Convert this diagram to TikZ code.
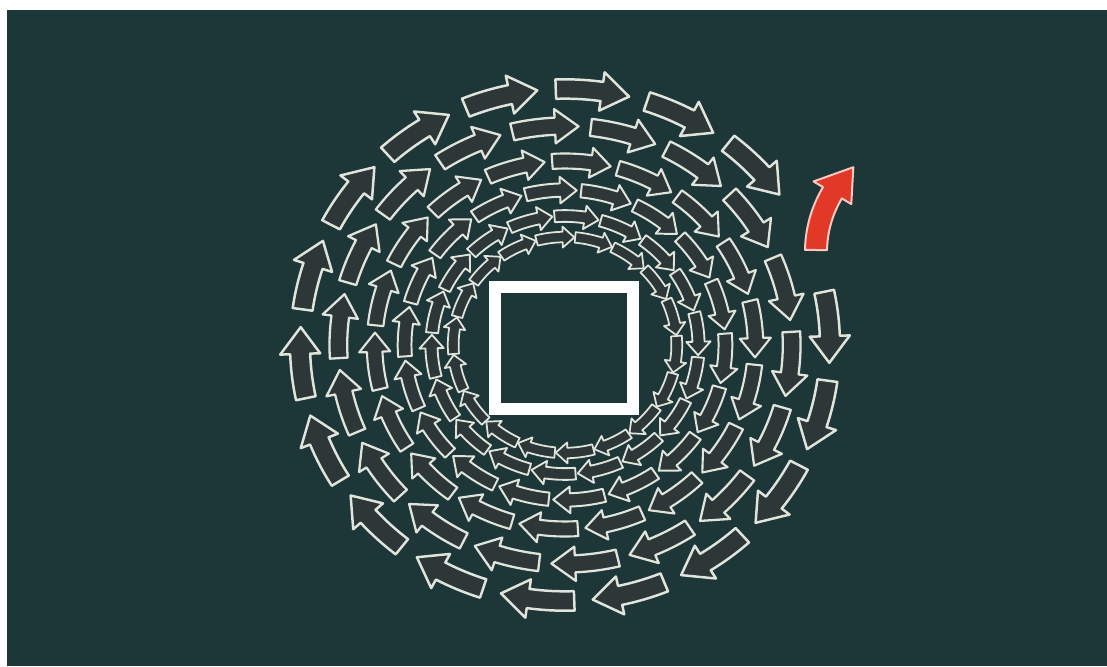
\documentclass[tikz,border=0pt]{standalone}
\definecolor{board}{RGB}{29,55,56}
\definecolor{chalk}{RGB}{224,228,220}
\definecolor{arrowfill}{RGB}{46,55,55}
\definecolor{redfill}{RGB}{226,56,40}
\definecolor{redline}{RGB}{255,200,190}
\newcommand\chalkarrow[3]{%
  \pgfmathsetmacro\rA{#1}%
  \pgfmathsetmacro\wA{0.03*#1+2}%
  \pgfmathsetmacro\hA{0.06*#1+4}%
  \pgfmathsetmacro\spA{8+0.012*(256-#1)}%
  \pgfmathsetmacro\sA{#2-\spA}%
  \pgfmathsetmacro\eA{#2+\spA}%
  \pgfmathsetmacro\bA{\eA-6}%
  \pgfmathsetmacro\riA{\rA-\wA}%
  \pgfmathsetmacro\roA{\rA+\wA}%
  \pgfmathsetmacro\rhiA{\rA-\hA}%
  \pgfmathsetmacro\rhoA{\rA+\hA}%
  \pgfmathsetmacro\lwA{1.2+0.005*#1}%
  \draw[#3, line width=\lwA pt] (\sA:\riA) arc[start angle=\sA, end angle=\bA, radius=\riA]
    -- (\bA:\rhiA) -- (\eA:\rA) -- (\bA:\rhoA) -- (\bA:\roA)
    arc[start angle=\bA, end angle=\sA, radius=\roA] -- cycle;
}
\tikzset{
  chalkshape/.style={draw=chalk, fill=arrowfill, line join=round},
  redshape/.style={draw=redline, fill=redfill, line width=2pt, line join=round},
  frame/.style={draw=white!95!chalk, line width=11.5pt}
}
\begin{document}
\begin{tikzpicture}[x=1pt,y=-1pt]
\useasboundingbox (0,0) rectangle (1107,666);
\fill[white] (0,0) rectangle (1107,666);
\fill[board] (7,10) rectangle (1107,666);
% rings of chalk arrows (clockwise)
\begin{scope}[shift={(565,345)}, xscale=1.035]
\foreach \R/\off [count=\i] in {256/16,219/5,184/15,155/5,129/15,108/5} {
  \foreach \k in {0,...,17} {
    \pgfmathsetmacro\ang{\off+20*\k}
    \pgfmathtruncatemacro\skipit{and(\i==1,\k==16)}
    \ifnum\skipit=0
      \chalkarrow{\R}{\ang}{chalkshape}
    \fi
  }
}
\end{scope}
% red arrow against the flow
\begin{scope}[shift={(931,252)}]
\draw[redshape] (181:104) arc[start angle=181, end angle=211, radius=104]
  -- (211:93) -- (227.5:115) -- (211:137) -- (211:126)
  arc[start angle=211, end angle=181, radius=126] -- cycle;
\end{scope}
% central square
\node[frame, minimum width=138pt, minimum height=122pt, inner sep=0pt] (box) at (564,348) {};
\end{tikzpicture}
\end{document}
